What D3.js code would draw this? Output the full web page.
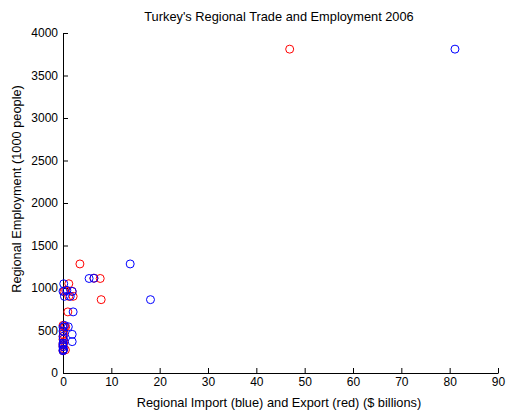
<!DOCTYPE html>
<html>
<head>
<meta charset="utf-8">
<script src="https://cdn.jsdelivr.net/npm/d3@7"></script>
<style>
  body { margin: 0; background: #fff; }
  svg { font-family: "Liberation Sans", Arial, sans-serif; }
  .axis path, .axis line { stroke: #000; }
  .axis text { fill: #000; font-size: 12px; }
  .label { font-size: 12.8px; fill: #000; }
</style>
</head>
<body>
<svg width="507" height="414"></svg>
<script>
'use strict';

// employment (1000 people), imports and exports ($ billions) per region
var employment = [3810, 1283, 1112, 1115, 863, 719, 1050, 972, 960, 960, 902, 902, 560,
                  544, 455, 369, 396, 493, 430, 350, 310, 280, 262, 272, 330, 540];
var importVals = [81.1, 13.9, 5.4, 6.4, 18.1, 2.1, 0.15, 0.8, 1.9, 0.0, 0.3, 1.5, 0.3,
                  1.1, 1.9, 1.9, 0.1, 0.0, 0.05, 0.0, 0.0, 0.05, 0.0, 0.1, 0.0, 0.0];
var exportVals = [46.9, 3.5, 7.7, 6.4, 7.9, 1.0, 1.2, 0.55, 1.9, 0.2, 2.1, 1.2, 0.0,
                  0.55, 0.1, 0.2, 0.0, 0.1, 0.0, 0.05, 0.0, 0.1, 0.0, 0.5, 0.0, 0.3];
var xTicks = [0, 10, 20, 30, 40, 50, 60, 70, 80, 90];
var yTicks = [0, 500, 1000, 1500, 2000, 2500, 3000, 3500, 4000];

var svg = d3.select('svg'),
    plotLeft = 63, plotRight = 498, plotTop = 33, plotBottom = 373;

var x = d3.scaleLinear().domain([0, 90]).range([plotLeft, plotRight]);
var y = d3.scaleLinear().domain([0, 4000]).range([plotBottom, plotTop]);

// x axis
svg.append('g')
    .attr('class', 'axis')
    .attr('transform', 'translate(0,' + plotBottom + ')')
    .call(d3.axisBottom(x).tickValues(xTicks).tickFormat(d3.format('d'))
        .tickSizeInner(-5).tickSizeOuter(0).tickPadding(4));

// y axis
svg.append('g')
    .attr('class', 'axis')
    .attr('transform', 'translate(' + plotLeft + ',0)')
    .call(d3.axisLeft(y).tickValues(yTicks).tickFormat(d3.format('d'))
        .tickSizeInner(-5).tickSizeOuter(0).tickPadding(5));

var pts = employment.map(function(e, i) {
    return {emp: e, imp: importVals[i], exp: exportVals[i]};
});

// exports in red, then imports in blue
svg.append('g').selectAll('circle')
    .data(pts).enter().append('circle')
    .attr('cx', function(d) { return x(d.exp); })
    .attr('cy', function(d) { return y(d.emp); })
    .attr('r', 4)
    .attr('fill', 'none')
    .attr('stroke', '#ff0000');

svg.append('g').selectAll('circle')
    .data(pts).enter().append('circle')
    .attr('cx', function(d) { return x(d.imp); })
    .attr('cy', function(d) { return y(d.emp); })
    .attr('r', 4)
    .attr('fill', 'none')
    .attr('stroke', '#0000ff');

// title and labels
svg.append('text')
    .attr('class', 'label')
    .attr('x', 279).attr('y', 21)
    .attr('text-anchor', 'middle')
    .text("Turkey's Regional Trade and Employment 2006");

svg.append('text')
    .attr('class', 'label')
    .attr('x', 279).attr('y', 407)
    .attr('text-anchor', 'middle')
    .text('Regional Import (blue) and Export (red) ($ billions)');

svg.append('text')
    .attr('class', 'label')
    .attr('transform', 'translate(21,189) rotate(-90)')
    .attr('text-anchor', 'middle')
    .text('Regional Employment (1000 people)');
</script>
</body>
</html>
